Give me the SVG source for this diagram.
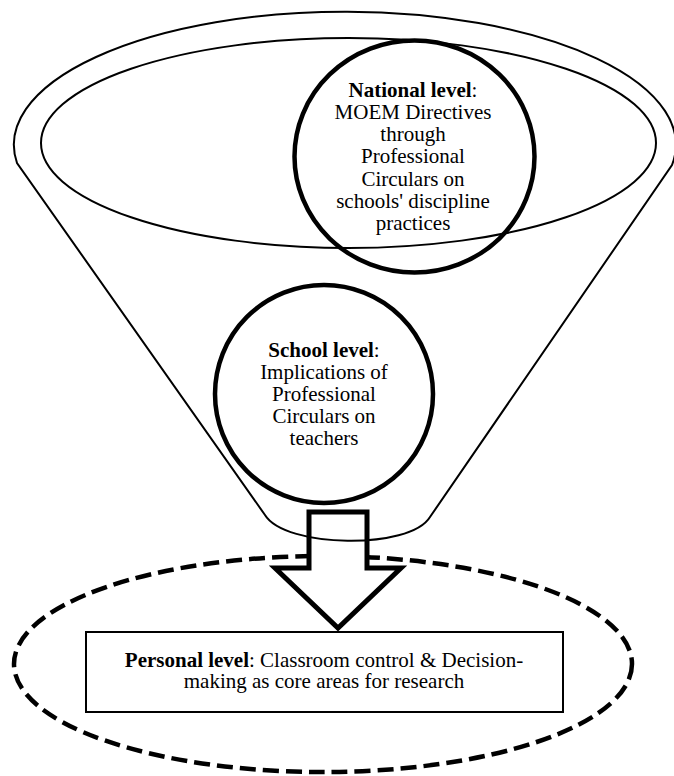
<svg xmlns="http://www.w3.org/2000/svg" width="674" height="776" viewBox="0 0 674 776">
<style>
.thin{fill:none;stroke:#000;stroke-width:2}
.thick{fill:none;stroke:#000;stroke-width:4.5}
.dash{fill:none;stroke:#000;stroke-width:4.5;stroke-dasharray:16 7}
text{font-family:"Liberation Serif","Times New Roman",serif;font-size:21px;fill:#000;text-anchor:middle}
.b{font-weight:bold}
</style>
<rect width="674" height="776" fill="#fff"/>
<g id="personal-ellipse">
<ellipse class="dash" cx="323" cy="664" rx="309" ry="108"/>
</g>
<g id="connectors">
<path d="M309 512 L367 512 L367 568 L401 568 L338 628 L275 568 L309 568 Z" fill="#fff" stroke="#000" stroke-width="5" stroke-linejoin="miter"/>
</g>
<g id="funnel">
<path class="thin" d="M265 515 L17 163 A331 133 0 1 1 672 165 L430 517 C410 550 285 548 265 515 Z"/>
<ellipse class="thin" cx="348.5" cy="143" rx="307.5" ry="105"/>
</g>
<g id="national">
<ellipse class="thick" cx="414.5" cy="156.5" rx="120" ry="116"/>
<text x="413" y="97"><tspan class="b">National level</tspan>:</text>
<text x="413" y="119">MOEM Directives</text>
<text x="413" y="141">through</text>
<text x="413" y="163">Professional</text>
<text x="413" y="185.5">Circulars on</text>
<text x="413" y="207.5">schools' discipline</text>
<text x="413" y="229.5">practices</text>
</g>
<g id="school">
<circle class="thick" cx="324" cy="394" r="109"/>
<text x="324" y="357"><tspan class="b">School level</tspan>:</text>
<text x="324" y="379">Implications of</text>
<text x="324" y="401">Professional</text>
<text x="324" y="423">Circulars on</text>
<text x="324" y="445">teachers</text>
</g>
<g id="personal">
<rect x="86" y="632" width="477" height="80" fill="#fff" stroke="#000" stroke-width="2"/>
<text x="324" y="667"><tspan class="b">Personal level</tspan>: Classroom control &amp; Decision-</text>
<text x="324" y="688">making as core areas for research</text>
</g>
</svg>
